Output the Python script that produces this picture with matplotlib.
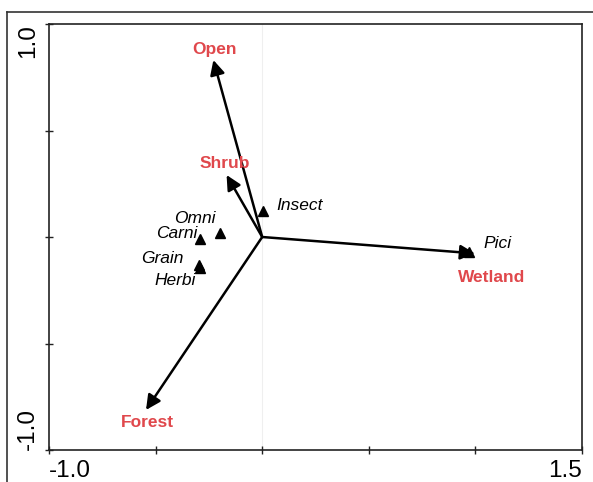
import numpy as np
import matplotlib.pyplot as plt
from matplotlib.lines import Line2D

plt.rcParams['font.family'] = ['Liberation Sans', 'DejaVu Sans']

# environment vectors (arrows from origin)
env_names = ['Open', 'Shrub', 'Wetland', 'Forest']
env_x = [-0.229, -0.167, 0.998, -0.545]
env_y = [0.831, 0.291, -0.077, -0.812]
env_lab_x = [-0.222, -0.174, 1.077, -0.539]
env_lab_y = [0.882, 0.347, -0.192, -0.869]

# feeding guilds (triangle points)
guilds = ['Insect', 'Omni', 'Carni', 'Grain', 'Herbi', 'Pici']
guild_x = [0.005, -0.198, -0.292, -0.295, -0.292, 0.970]
guild_y = [0.123, 0.017, -0.011, -0.130, -0.145, -0.072]
guild_lab_x = [0.065, -0.221, -0.302, -0.370, -0.310, 1.038]
guild_lab_y = [0.150, 0.085, 0.018, -0.100, -0.202, -0.030]
guild_ha = ['left', 'right', 'right', 'right', 'right', 'left']

red = '#e0484c'

fig = plt.figure(figsize=(5.93, 4.82), dpi=100)
ax = fig.add_axes([49 / 593, 32 / 482, 533 / 593, 426 / 482])

ax.set_xlim(-1.0, 1.5)
ax.set_ylim(-1.0, 1.0)
ax.axvline(0, color='#efefef', lw=0.8, zorder=0)

for s in ax.spines.values():
    s.set_color('#222222')
    s.set_linewidth(1.2)

ax.set_xticks([-1.0, -0.5, 0.0, 0.5, 1.0, 1.5])
ax.set_xticklabels(['-1.0', '', '', '', '', '1.5'])
ax.set_yticks([-1.0, -0.5, 0.0, 0.5, 1.0])
ax.set_yticklabels(['-1.0', '', '', '', '1.0'], rotation=90)
ax.tick_params(direction='inout', length=6, width=1, colors='#222222',
               labelsize=17.5, labelcolor='black')
ax.tick_params(axis='x', pad=4)
ax.tick_params(axis='y', pad=4)
xl = ax.get_xticklabels()
xl[0].set_ha('left')
xl[-1].set_ha('right')
yl = ax.get_yticklabels()
yl[0].set_va('bottom')
yl[-1].set_va('top')
for t in yl:
    t.set_ha('right')

ax.plot(guild_x, guild_y, linestyle='none', marker='^', color='black',
        markersize=7, zorder=2)

for name, x, y, lx, ly in zip(env_names, env_x, env_y, env_lab_x, env_lab_y):
    ax.annotate('', xy=(x, y), xytext=(0, 0),
                arrowprops=dict(arrowstyle='-|>', color='black', lw=1.8,
                                mutation_scale=22, shrinkA=0, shrinkB=0),
                zorder=3)
    ax.text(lx, ly, name, color=red, fontsize=12.5, fontweight='bold',
            ha='center', va='center')

for name, lx, ly, ha in zip(guilds, guild_lab_x, guild_lab_y, guild_ha):
    ax.text(lx, ly, name, fontsize=12.5, fontstyle='italic', ha=ha,
            va='center', color='black')

# outer frame (left and top edges)
fig.add_artist(Line2D([7 / 593, 1.0], [1 - 12 / 482, 1 - 12 / 482],
                      transform=fig.transFigure, color='#333333', lw=1.2))
fig.add_artist(Line2D([7 / 593, 7 / 593], [0.0, 1 - 12 / 482],
                      transform=fig.transFigure, color='#333333', lw=1.2))

fig.savefig('out.png', dpi=100)
